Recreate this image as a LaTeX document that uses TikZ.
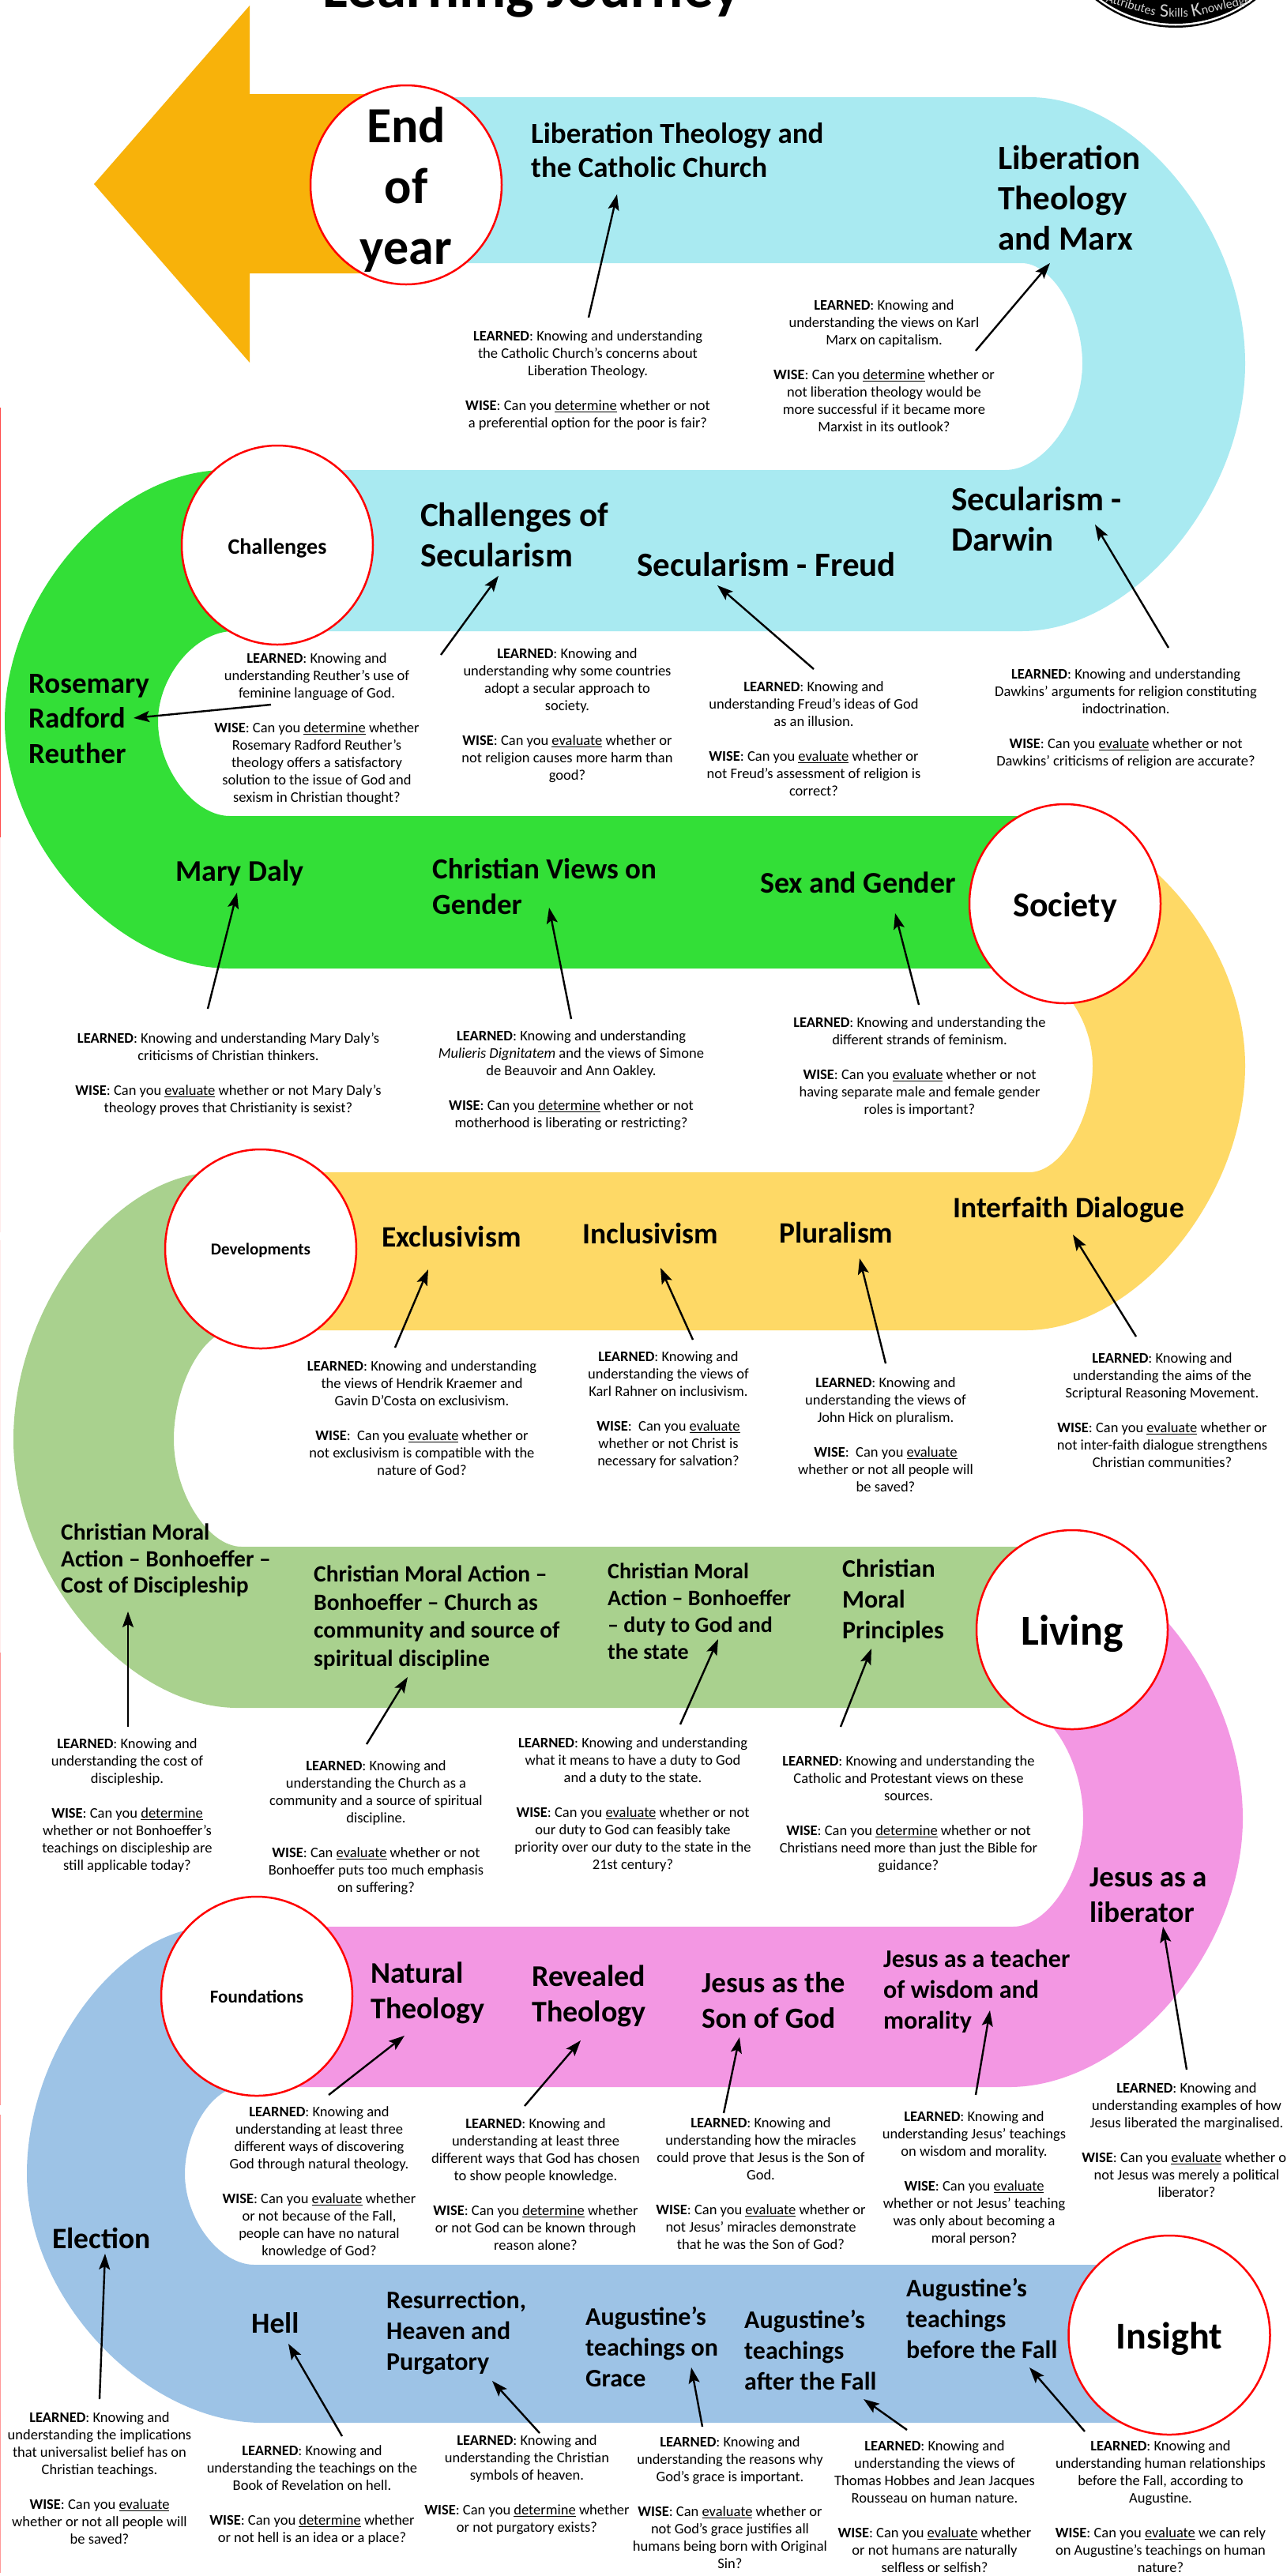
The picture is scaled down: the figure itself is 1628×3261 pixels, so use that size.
\documentclass[tikz,border=0pt]{standalone}
\usepackage{fontspec}
\setmainfont{Carlito}
\usetikzlibrary{arrows.meta,shapes.geometric}
\definecolor{cOrange}{HTML}{F8B20A}
\definecolor{cCyan}{HTML}{A9EAF1}
\definecolor{cGreen}{HTML}{33DF37}
\definecolor{cYellow}{HTML}{FED966}
\definecolor{cLeaf}{HTML}{A9D18E}
\definecolor{cPink}{HTML}{F397E3}
\definecolor{cBlue}{HTML}{9DC3E6}
\newcommand\kk{.5}
\newcommand\cv[6]{.. controls ({#1+\kk*(#3-#1)},#2) and (#3,{#4-\kk*(#4-#2)}) .. (#3,#4) .. controls (#3,{#4+\kk*(#6-#4)}) and ({#5+\kk*(#3-#5)},#6) .. (#5,#6)}
\newcommand\fs[2]{\fontsize{#1}{#2}\selectfont}
\newcommand\low[2]{\raisebox{-#1pt}[0pt][0pt]{#2}}
\tikzset{
  ring/.style={ellipse,draw=red,line width=2.5pt,fill=white,inner sep=0pt,minimum width=242pt,minimum height=252pt,align=center,font=\bfseries},
  hdA/.style={anchor=west,inner sep=0pt,align=left,font=\fs{37}{44.5}\bfseries},
  hdB/.style={anchor=west,inner sep=0pt,align=left,font=\fs{43}{51}\bfseries},
  hdC/.style={anchor=west,inner sep=0pt,align=left,font=\fs{29.5}{34.5}\bfseries},
  hdD/.style={anchor=west,inner sep=0pt,align=left,font=\fs{32}{39}\bfseries},
  hdE/.style={anchor=west,inner sep=0pt,align=left,font=\fs{37.5}{44}\bfseries},
  body/.style={inner sep=0pt,align=center,font=\fs{18.5}{22}},
  pointer/.style={draw=black,line width=2.4pt,-{Stealth[length=20pt,width=14pt,inset=4pt]}},
  edgemark/.style={line width=1.5pt}
}
\newcommand\LL{\textbf{LEARNED}}
\newcommand\WW{\textbf{WISE}}
\newcommand\gapp{\\[22pt]}
\newcommand\ev{\underline{evaluate}}
\newcommand\de{\underline{determine}}
\begin{document}
\begin{tikzpicture}[x=1pt,y=-1pt]
\clip (0,0) rectangle (1628,3261);
\fill[white] (0,0) rectangle (1628,3261);
% left edge marks
\draw[edgemark,draw=red!70] (0.5,516) -- (0.5,1060);
\draw[edgemark,draw=red!8] (0.5,1060) -- (0.5,1560);
\draw[edgemark,draw=red!8] (0.5,1570) -- (0.5,2092);
\draw[edgemark,draw=red!40] (0.5,2092) -- (0.5,2665);
\draw[edgemark,draw=red!40] (0.5,2677) -- (0.5,3257);
% title
\node[anchor=base,inner sep=0pt,font=\fs{75}{80}\bfseries] (title) at (673,9.6) {Learning Journey};
% logo
\fill[black] (1488,-130) circle[radius=165];
\fill[white] (1488,-130) circle[radius=162.5];
\fill[black] (1488,-130) circle[radius=160];
\node[anchor=east,inner sep=0pt,text=black!18,rotate=-16,font=\fs{16}{18}] (logoa) at (1463,15) {Attributes};
\node[anchor=center,inner sep=0pt,text=black!18,font=\fs{16}{18}] (logob) at (1486,14) {{\fs{24}{24}S}kills};
\node[anchor=west,inner sep=0pt,text=black!18,rotate=13,font=\fs{16}{18}] (logoc) at (1508,15) {{\fs{24}{24}K}nowledge};
% bands
\fill[cOrange] (119,233) -- (316,7) -- (316,119) -- (514,119) -- (514,346) -- (316,346) -- (316,459) -- cycle;
\fill[cCyan] (514,123) -- (1303,123) \cv{1303}{123}{1576}{460}{1293}{799} -- (351,799) -- (351,595) -- (1272,595) \cv{1272}{595}{1370}{460}{1293}{333} -- (514,333) -- cycle;
\fill[cYellow] (1300,1033) \cv{1300}{1033}{1576}{1349}{1298}{1684} -- (330,1684) -- (330,1484) -- (1303,1484) \cv{1303}{1484}{1383}{1349}{1290}{1226} -- cycle;
\fill[cPink] (1300,1958) \cv{1300}{1958}{1573}{2302}{1277}{2642} -- (325,2642) -- (325,2439) -- (1282,2439) \cv{1282}{2439}{1371}{2302}{1290}{2162} -- cycle;
\fill[cGreen] (351,595) -- (285,595) \cv{285}{595}{6}{913}{291}{1226} -- (1348,1226) -- (1348,1033) -- (291,1033) \cv{291}{1033}{200}{913}{295}{799} -- (351,799) -- cycle;
\fill[cLeaf] (330,1484) -- (275,1484) \cv{275}{1484}{17}{1822}{301}{2162} -- (1357,2162) -- (1357,1958) -- (306,1958) \cv{306}{1958}{220}{1822}{295}{1684} -- (330,1684) -- cycle;
\fill[cBlue] (325,2439) -- (270,2439) \cv{270}{2439}{34}{2752}{332}{3067} -- (1480,3067) -- (1480,2867) -- (322,2867) \cv{322}{2867}{234}{2752}{305}{2642} -- (325,2642) -- cycle;
% rings
\node[ring] (nEnd) at (514,234) {};
\node[inner sep=0pt,align=center,font=\fs{64}{77}\bfseries] (nEndT) at (514,240) {End\\of\\year};
\node[ring,font=\fs{28}{30}\bfseries] (nChal) at (351,690) {\low{11}{Challenges}};
\node[ring,font=\fs{44}{50}\bfseries] (nSoc) at (1348,1144) {\low{16.5}{Society}};
\node[ring,font=\fs{21}{26}\bfseries] (nDev) at (330,1581) {\low{7.5}{Developments}};
\node[ring,font=\fs{54}{60}\bfseries] (nLiv) at (1357,2063) {\low{19.5}{Living}};
\node[ring,font=\fs{23}{26}\bfseries] (nFou) at (325,2527) {Foundations};
\node[ring,minimum width=255pt,font=\fs{48}{60}\bfseries] (nIns) at (1480,2956) {\low{17.5}{Insight}};
% headings
\node[hdA,font=\fs{37}{43.5}\bfseries] (h1) at (672,190) {Liberation Theology and\\the Catholic Church};
\node[hdB] (h2) at (1263,251) {Liberation\\Theology\\and Marx};
\node[hdB] (h3) at (1204,657) {Secularism -\\Darwin};
\node[hdB] (h4) at (806,715) {Secularism - Freud};
\node[hdB] (h5) at (532,677) {Challenges of\\Secularism};
\node[hdA] (h6) at (36,910) {Rosemary\\Radford\\Reuther};
\node[hdA,font=\fs{38}{44.5}\bfseries] (h7) at (222,1105) {Mary Daly};
\node[hdA] (h8) at (547,1122) {Christian Views on\\Gender};
\node[hdA,font=\fs{38}{44.5}\bfseries] (h9) at (962,1117) {Sex and Gender};
\node[hdE] (h10) at (483,1565) {Exclusivism};
\node[hdE] (h11) at (737,1561) {Inclusivism};
\node[hdE] (h12) at (986,1560) {Pluralism};
\node[hdE] (h13) at (1206,1531) {Interfaith Dialogue};
\node[hdC,font=\fs{29.5}{33.5}\bfseries] (h14) at (77,1975) {Christian Moral\\Action – Bonhoeffer –\\Cost of Discipleship};
\node[hdC,font=\fs{29.5}{35.5}\bfseries] (h15) at (397,2048) {Christian Moral Action –\\Bonhoeffer – Church as\\community and source of\\spiritual discipline};
\node[hdC,font=\fs{28}{34}\bfseries] (h16) at (769,2040) {Christian Moral\\Action – Bonhoeffer\\– duty to God and\\the state};
\node[hdC,font=\fs{32}{39}\bfseries] (h17) at (1066,2027) {Christian\\Moral\\Principles};
\node[hdA] (h18) at (1379,2399) {Jesus as a\\liberator};
\node[hdA,font=\fs{38}{44.5}\bfseries] (h19) at (469,2523) {Natural\\Theology};
\node[hdA,font=\fs{38}{44.5}\bfseries] (h20) at (673,2527) {Revealed\\Theology};
\node[hdA] (h21) at (888,2532) {Jesus as the\\Son of God};
\node[hdD] (h22) at (1118,2521) {Jesus as a teacher\\of wisdom and\\morality};
\node[hdE] (h23) at (66,2833) {Election};
\node[hdA] (h24) at (318,2941) {Hell};
\node[hdD] (h25) at (489,2953) {Resurrection,\\Heaven and\\Purgatory};
\node[hdD] (h26) at (741,2971) {Augustine’s\\teachings on\\Grace};
\node[hdD] (h27) at (942,2975) {Augustine’s\\teachings\\after the Fall};
\node[hdD] (h28) at (1147,2935) {Augustine’s\\teachings\\before the Fall};
% body text
\node[body] (b1) at (744,482) {\LL: Knowing and understanding\\the Catholic Church’s concerns about\\Liberation Theology.\gapp\WW: Can you \de\ whether or not\\a preferential option for the poor is fair?};
\node[body] (b2) at (1119,463) {\LL: Knowing and\\understanding the views on Karl\\Marx on capitalism.\gapp\WW: Can you \de\ whether or\\not liberation theology would be\\more successful if it became more\\Marxist in its outlook?};
\node[body] (b3) at (401,923) {\LL: Knowing and\\understanding Reuther’s use of\\feminine language of God.\gapp\WW: Can you \de\ whether\\Rosemary Radford Reuther’s\\theology offers a satisfactory\\solution to the issue of God and\\sexism in Christian thought?};
\node[body] (b4) at (718,906) {\LL: Knowing and\\understanding why some countries\\adopt a secular approach to\\society.\gapp\WW: Can you \ev\ whether or\\not religion causes more harm than\\good?};
\node[body] (b5) at (1030,935) {\LL: Knowing and\\understanding Freud’s ideas of God\\as an illusion.\gapp\WW: Can you \ev\ whether or\\not Freud’s assessment of religion is\\correct?};
\node[body] (b6) at (1425,910) {\LL: Knowing and understanding\\Dawkins’ arguments for religion constituting\\indoctrination.\gapp\WW: Can you \ev\ whether or not\\Dawkins’ criticisms of religion are accurate?};
\node[body] (b7) at (289,1360) {\LL: Knowing and understanding Mary Daly’s\\criticisms of Christian thinkers.\gapp\WW: Can you \ev\ whether or not Mary Daly’s\\theology proves that Christianity is sexist?};
\node[body] (b8) at (723,1368) {\LL: Knowing and understanding\\\textit{Mulieris Dignitatem} and the views of Simone\\de Beauvoir and Ann Oakley.\gapp\WW: Can you \de\ whether or not\\motherhood is liberating or restricting?};
\node[body] (b9) at (1164,1351) {\LL: Knowing and understanding the\\different strands of feminism.\gapp\WW: Can you \ev\ whether or not\\having separate male and female gender\\roles is important?};
\node[body] (b10) at (534,1795) {\LL: Knowing and understanding\\the views of Hendrik Kraemer and\\Gavin D’Costa on exclusivism.\gapp\WW:\ \ Can you \ev\ whether or\\not exclusivism is compatible with the\\nature of God?};
\node[body] (b11) at (846,1785) {\LL: Knowing and\\understanding the views of\\Karl Rahner on inclusivism.\gapp\WW:\ \ Can you \ev\\ whether or not Christ is\\necessary for salvation?};
\node[body] (b12) at (1121,1816) {\LL: Knowing and\\understanding the views of\\John Hick on pluralism.\gapp\WW:\ \ Can you \ev\\ whether or not all people will\\be saved?};
\node[body] (b13) at (1471,1785) {\LL: Knowing and\\understanding the aims of the\\Scriptural Reasoning Movement.\gapp\WW: Can you \ev\ whether or\\not inter-faith dialogue strengthens\\Christian communities?};
\node[body] (b14) at (161,2286) {\LL: Knowing and\\understanding the cost of\\discipleship.\gapp\WW: Can you \de\\ whether or not Bonhoeffer’s\\teachings on discipleship are\\still applicable today?};
\node[body] (b15) at (476,2314) {\LL: Knowing and\\understanding the Church as a\\community and a source of spiritual\\discipline.\gapp\WW: Can \ev\ whether or not\\Bonhoeffer puts too much emphasis\\on suffering?};
\node[body] (b16) at (801,2285) {\LL: Knowing and understanding\\what it means to have a duty to God\\and a duty to the state.\gapp\WW: Can you \ev\ whether or not\\our duty to God can feasibly take\\priority over our duty to the state in the\\21st century?};
\node[body] (b17) at (1150,2297) {\LL: Knowing and understanding the\\Catholic and Protestant views on these\\sources.\gapp\WW: Can you \de\ whether or not\\Christians need more than just the Bible for\\guidance?};
\node[body] (b18) at (404,2763) {\LL: Knowing and\\understanding at least three\\different ways of discovering\\God through natural theology.\gapp\WW: Can you \ev\ whether\\or not because of the Fall,\\people can have no natural\\knowledge of God?};
\node[body] (b19) at (678,2765) {\LL: Knowing and\\understanding at least three\\different ways that God has chosen\\to show people knowledge.\gapp\WW: Can you \de\ whether\\or not God can be known through\\reason alone?};
\node[body] (b20) at (963,2764) {\LL: Knowing and\\understanding how the miracles\\could prove that Jesus is the Son of\\God.\gapp\WW: Can you \ev\ whether or\\not Jesus’ miracles demonstrate\\that he was the Son of God?};
\node[body] (b21) at (1233,2758) {\LL: Knowing and\\understanding Jesus’ teachings\\on wisdom and morality.\gapp\WW: Can you \ev\\ whether or not Jesus’ teaching\\was only about becoming a\\moral person?};
\node[body] (b22) at (1502,2709) {\LL: Knowing and\\understanding examples of how\\Jesus liberated the marginalised.\gapp\WW: Can you \ev\ whether or\\not Jesus was merely a political\\liberator?};
\node[body] (b23) at (126,3137) {\LL: Knowing and\\understanding the implications\\that universalist belief has on\\Christian teachings.\gapp\WW: Can you \ev\\ whether or not all people will\\be saved?};
\node[body] (b24) at (395,3159) {\LL: Knowing and\\understanding the teachings on the\\Book of Revelation on hell.\gapp\WW: Can you \de\ whether\\or not hell is an idea or a place?};
\node[body] (b25) at (667,3146) {\LL: Knowing and\\understanding the Christian\\symbols of heaven.\gapp\WW: Can you \de\ whether\\or not purgatory exists?};
\node[body] (b26) at (924,3168) {\LL: Knowing and\\understanding the reasons why\\God’s grace is important.\gapp\WW: Can \ev\ whether or\\not God’s grace justifies all\\humans being born with Original\\Sin?};
\node[body] (b27) at (1183,3173) {\LL: Knowing and\\understanding the views of\\Thomas Hobbes and Jean Jacques\\Rousseau on human nature.\gapp\WW: Can you \ev\ whether\\or not humans are naturally\\selfless or selfish?};
\node[body] (b28) at (1469,3173) {\LL: Knowing and\\understanding human relationships\\before the Fall, according to\\Augustine.\gapp\WW: Can you \ev\ we can rely\\on Augustine’s teachings on human\\nature?};
% connector end points
\foreach \n/\sx/\sy/\tx/\ty in {
 a1/745/402/781/246, a2/1235/444/1329/333, a3/558/829/631/729, a4/1030/847/908/741,
 a5/1479/820/1386/664, a6/343/892/169/909, a7/263/1277/300/1130, a8/723/1290/695/1149,
 a9/1163/1272/1133/1156, a10/500/1706/542/1607, a11/877/1696/836/1605, a12/1121/1726/1088/1593,
 a13/1438/1692/1358/1563, a14/162/2186/162/2040, a15/464/2208/516/2123, a16/861/2183/909/2075,
 a17/1064/2186/1103/2087, a18/1502/2620/1472/2439, a19/416/2652/512/2577, a20/664/2666/735/2583,
 a21/916/2675/936/2579, a22/1235/2652/1253/2545, a23/126/3037/133/2853, a24/433/3084/365/2967,
 a25/683/3080/623/3014, a26/889/3072/875/2997, a27/1148/3076/1093/3037, a28/1373/3078/1303/2997}{
  \coordinate (\n s) at (\sx,\sy);
  \coordinate (\n t) at (\tx,\ty);
  \draw[pointer] (\n s) -- (\n t);
}
\end{tikzpicture}
\end{document}
